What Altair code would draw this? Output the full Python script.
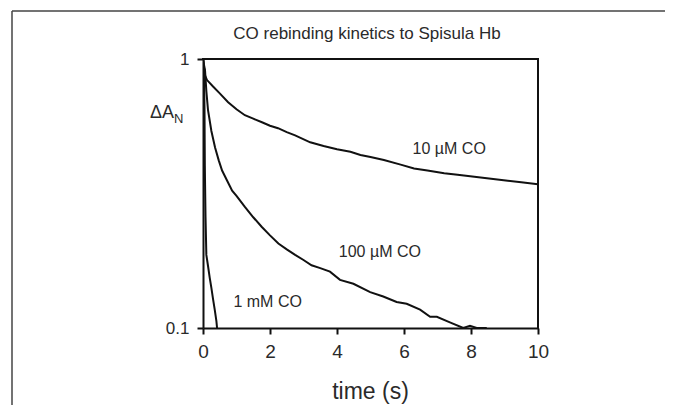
import altair as alt
import pandas as pd

# ---- data ----
t_10uM = [0, 0.03, 0.06, 0.12, 0.3, 0.5, 0.75, 1.0, 1.25, 1.5, 1.76, 2.0, 2.24, 2.5, 2.75,
          3.2, 3.6, 4.0, 4.4, 4.7, 5.0, 5.4, 5.9, 6.3, 6.7, 7.2, 7.6, 8.1, 8.6, 9.1, 9.5, 10.0]
v_10uM = [1.0, 0.93, 0.87, 0.835, 0.79, 0.745, 0.691, 0.65, 0.618, 0.60, 0.582, 0.565, 0.553, 0.535, 0.520,
          0.490, 0.475, 0.462, 0.452, 0.440, 0.432, 0.421, 0.405, 0.392, 0.385, 0.376, 0.371, 0.365, 0.359, 0.353, 0.348, 0.342]

t_100uM = [0, 0.03, 0.06, 0.1, 0.15, 0.25, 0.36, 0.47, 0.57, 0.71, 0.87, 1.0, 1.25, 1.5, 1.75, 2.0,
           2.25, 2.5, 2.75, 3.0, 3.24, 3.5, 3.79, 4.09, 4.49, 4.99, 5.38, 5.78, 6.08, 6.48, 6.78,
           6.98, 7.37, 7.77, 7.97, 8.17, 8.47]
v_100uM = [1.0, 0.95, 0.91, 0.76, 0.645, 0.54, 0.469, 0.42, 0.385, 0.355, 0.324, 0.31, 0.282, 0.258, 0.238, 0.221,
           0.206, 0.196, 0.187, 0.179, 0.171, 0.167, 0.162, 0.151, 0.146, 0.136, 0.131, 0.125, 0.123, 0.117, 0.110,
           0.110, 0.105, 0.100, 0.102, 0.100, 0.100]

t_1mM = [0, 0.03, 0.045, 0.05, 0.055, 0.06, 0.075, 0.1, 0.15, 0.2, 0.25, 0.3, 0.35, 0.4, 0.42]
v_1mM = [1.0, 0.85, 0.65, 0.5, 0.4, 0.355, 0.26, 0.187, 0.17, 0.154, 0.141, 0.128, 0.117, 0.106, 0.1]

series_names = ["10 µM CO", "100 µM CO", "1 mM CO"]
label_t = [7.35, 5.28, 1.93]
label_v = [0.462, 0.192, 0.125]

x_ticks = [0, 2, 4, 6, 8, 10]
y_ticks = [0.1, 1]

title_text = "CO rebinding kinetics to Spisula Hb"
x_title = "time (s)"
y_title_main = "ΔA"
y_title_sub = "N"

rows = []
for name, ts, vs in zip(series_names, [t_10uM, t_100uM, t_1mM], [v_10uM, v_100uM, v_1mM]):
    for t, v in zip(ts, vs):
        rows.append({"series": name, "t": t, "v": v})
df = pd.DataFrame(rows)
labels_df = pd.DataFrame({"series": series_names, "t": label_t, "v": label_v})

FONT = "Liberation Sans"
INK = "#111111"
TXT = "#2a2a2a"
W, H = 335, 269

x_enc = alt.X("t:Q", scale=alt.Scale(domain=[0, 10], nice=False, zero=False),
              axis=alt.Axis(values=x_ticks, title=None, grid=False, labelFontSize=19,
                            labelFont=FONT, labelColor=TXT, labelPadding=8, labelFlush=False,
                            tickSize=6, tickWidth=2, tickColor=INK,
                            domainColor=INK, domainWidth=2))
y_enc = alt.Y("v:Q", scale=alt.Scale(type="log", domain=[0.1, 1], nice=False),
              axis=alt.Axis(values=y_ticks, format="~g", title=None, grid=False,
                            labelFontSize=17, labelFont=FONT, labelColor=TXT, labelPadding=8,
                            labelFlush=False,
                            tickSize=6, tickWidth=2, tickColor=INK,
                            domainColor=INK, domainWidth=2))

lines = alt.Chart(df).mark_line(color=INK, strokeWidth=2, clip=True).encode(
    x=x_enc, y=y_enc, detail="series:N", order="t:Q")

labels = alt.Chart(labels_df).mark_text(font=FONT, fontSize=16, color=TXT).encode(
    x="t:Q", y="v:Q", text="series:N")

texts_df = pd.DataFrame({"k": [0]})
base_txt = alt.Chart(texts_df)
title_mark = base_txt.mark_text(font=FONT, fontSize=17, color=TXT, baseline="middle", align="center").encode(
    x=alt.value(164), y=alt.value(-25), text=alt.value(title_text))
xtitle_mark = base_txt.mark_text(font=FONT, fontSize=23, color=TXT, baseline="alphabetic", align="center").encode(
    x=alt.value(167.5), y=alt.value(340), text=alt.value(x_title))
ymain_mark = base_txt.mark_text(font=FONT, fontSize=18, color=TXT, baseline="alphabetic", align="right").encode(
    x=alt.value(-29), y=alt.value(59), text=alt.value(y_title_main))
ysub_mark = base_txt.mark_text(font=FONT, fontSize=13, color=TXT, baseline="alphabetic", align="left").encode(
    x=alt.value(-29), y=alt.value(64), text=alt.value(y_title_sub))

frame_top = base_txt.mark_rule(color="#444444", strokeWidth=1.5).encode(
    x=alt.value(-191), x2=alt.value(470), y=alt.value(-48))
frame_left = base_txt.mark_rule(color="#444444", strokeWidth=1.5).encode(
    x=alt.value(-191), y=alt.value(-48), y2=alt.value(360))

box_top = base_txt.mark_rule(color=INK, strokeWidth=2).encode(
    x=alt.value(-1), x2=alt.value(W + 1), y=alt.value(0))
box_right = base_txt.mark_rule(color=INK, strokeWidth=2).encode(
    x=alt.value(W), y=alt.value(-1), y2=alt.value(H + 1))

chart = alt.layer(frame_top, frame_left, box_top, box_right, lines, labels,
                  title_mark, xtitle_mark, ymain_mark, ysub_mark).properties(
    width=W, height=H,
    autosize=alt.AutoSizeParams(type="none"),
    padding={"left": 195, "top": 51, "right": 127, "bottom": 77},
).configure_view(stroke=None).configure(background="white")

chart.save("out.html", embed_options={"renderer": "svg", "actions": False})
